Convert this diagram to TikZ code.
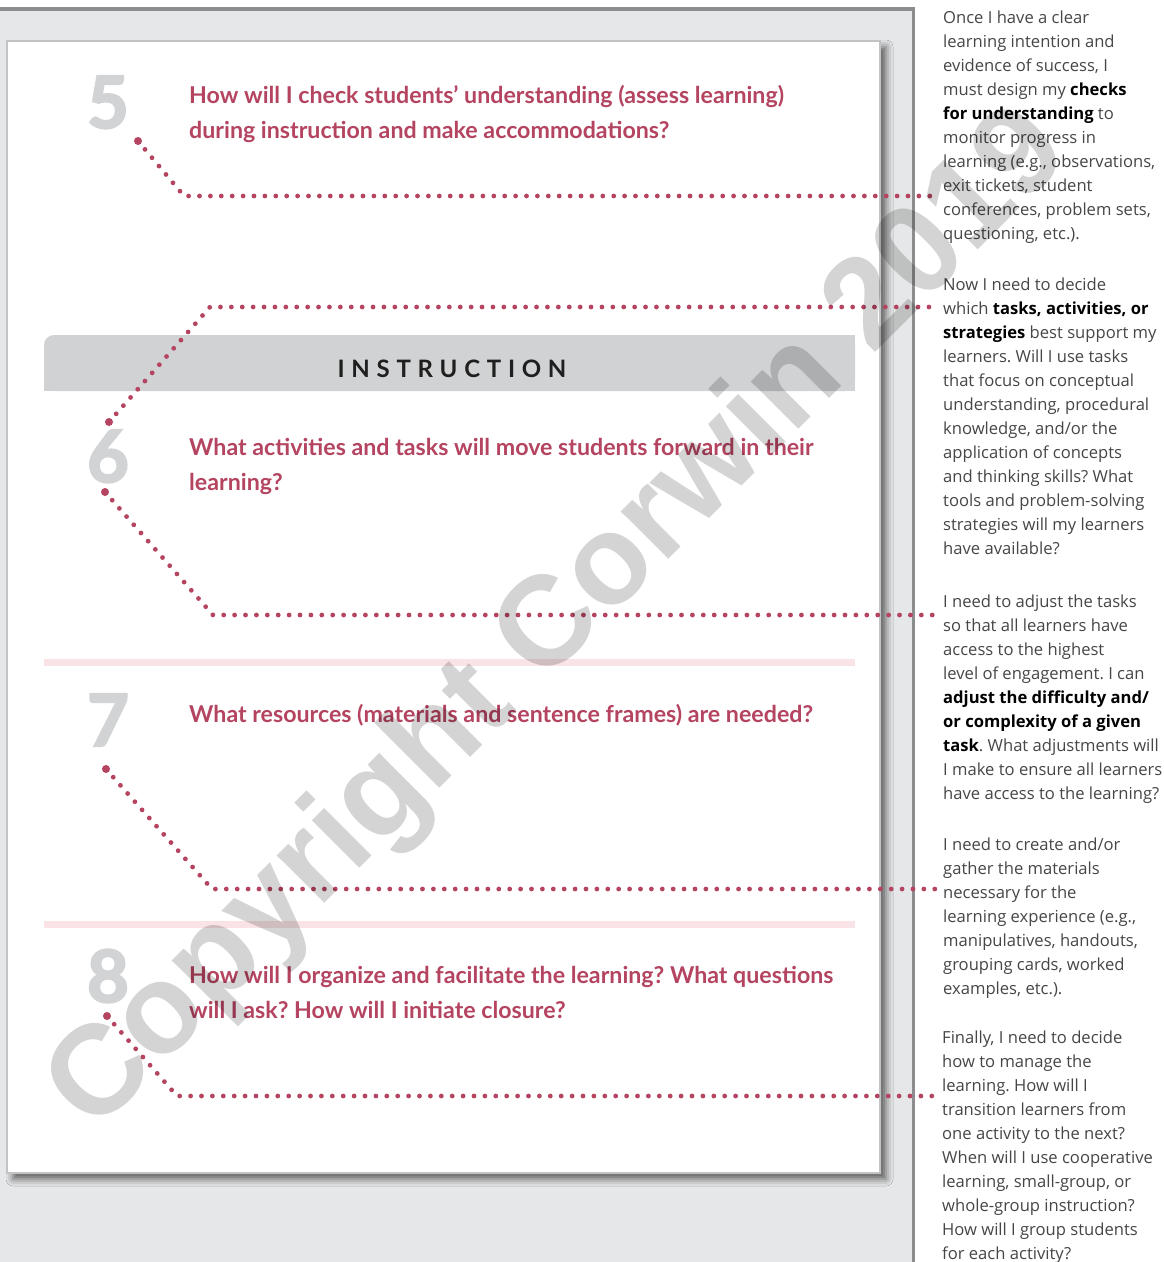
\documentclass[tikz,border=0pt]{standalone}
\usepackage{fontspec}
\setmainfont{Lato}
\newfontfamily\wmfont{Liberation Sans}
\newfontfamily\instrfont{Lato}[LetterSpace=28]
\newfontfamily\numfont{Lato}[BoldFeatures={FakeBold=3}]
\newfontfamily\parafont{Open Sans}
\usetikzlibrary{shadows.blur}
\frenchspacing

\definecolor{crim}{RGB}{180,68,96}
\definecolor{numgray}{RGB}{209,211,212}
\definecolor{band}{RGB}{209,210,212}
\definecolor{pinkline}{RGB}{250,227,230}
\definecolor{outergray}{RGB}{230,231,232}
\definecolor{barline}{RGB}{140,141,143}
\definecolor{pageborder}{RGB}{194,195,197}
\definecolor{bodytext}{RGB}{70,70,70}
\definecolor{wmgray}{RGB}{212,212,212}

\newcommand{\bdt}[1]{{\bfseries\color{black}#1}}

\tikzset{
  dotline/.style={draw=crim, line width=4.8pt, line cap=round, dash pattern=on 0pt off 10.9pt},
  bigdot/.style={circle, fill=crim, minimum size=8pt, inner sep=0pt},
  numstyle/.style={anchor=base, inner sep=0pt, text=numgray, font=\numfont\bfseries\fontsize{72}{72}\selectfont},
  question/.style={anchor=north west, inner sep=0pt, align=left, text=crim, font=\bfseries\fontsize{23.2}{35}\selectfont},
  para/.style={anchor=north west, inner sep=0pt, align=left, text=bodytext, font=\parafont\fontsize{16.6}{24}\selectfont},
  pinkrule/.style={draw=pinkline, line width=7pt},
}

\begin{document}
\begin{tikzpicture}[x=1pt,y=-1pt]
\useasboundingbox (0,0) rectangle (1164,1262);
\fill[white] (0,0) rectangle (1164,1262);
% outer gray region
\fill[outergray] (0,9) rectangle (913,1262);
% page
\draw[pageborder, line width=2.5pt, fill=white,
  blur shadow={shadow xshift=6pt, shadow yshift=-6pt, shadow blur radius=7pt, shadow opacity=60}]
  (7,41) rectangle (880,1173);
% frame lines
\draw[barline, line width=3.5pt, line join=miter] (0,9) -- (913.5,9) -- (913.5,1262);

% instruction band
\fill[band, rounded corners=10pt] (44,335) rectangle (855,391);
\fill[band] (60,335) rectangle (855,391);
\fill[band] (44,360) rectangle (855,391);
\node[anchor=base, inner sep=0pt, text=black!88, font=\instrfont\bfseries\fontsize{24}{24}\selectfont] (instr) at (452,377) {INSTRUCTION};

% pink rules
\draw[pinkrule] (44,662.5) -- (855,662.5);
\draw[pinkrule] (44,924.5) -- (855,924.5);

% numbers
\node[numstyle] (n5) at (108,128) {5};
\node[numstyle] (n6) at (108,482) {6};
\node[numstyle] (n7) at (108,746) {7};
\node[numstyle] (n8) at (108,1002) {8};

% questions
\node[question] (q5) at (189,78.5) {\strut How will I check students’ understanding (assess learning)\\during instruction and make accommodations?};
\node[question] (q6) at (189,431) {\strut What activities and tasks will move students forward in their\\learning?};
\node[question] (q7) at (189,697.5) {\strut What resources (materials and sentence frames) are needed?};
\node[question] (q8) at (189,958.5) {\strut How will I organize and facilitate the learning? What questions\\will I ask? How will I initiate closure?};

% dotted connectors
\node[bigdot] (s5) at (138,141) {};
\coordinate (k5) at (184,196);
\coordinate (e5) at (936,196);
\draw[dotline] (s5.center) -- (k5) -- (e5);

\node[bigdot] (s6a) at (109,422) {};
\coordinate (k6a) at (210,307);
\coordinate (e6a) at (936,307);
\draw[dotline] (s6a.center) -- (k6a) -- (e6a);

\node[bigdot] (s6b) at (105,492) {};
\coordinate (k6b) at (213,615);
\coordinate (e6b) at (936,615);
\draw[dotline] (s6b.center) -- (k6b) -- (e6b);

\node[bigdot] (s7) at (106,769) {};
\coordinate (k7) at (212,889);
\coordinate (e7) at (936,889);
\draw[dotline] (s7.center) -- (k7) -- (e7);

\node[bigdot] (s8) at (107,1016) {};
\coordinate (k8) at (177,1096);
\coordinate (e8) at (936,1096);
\draw[dotline] (s8.center) -- (k8) -- (e8);

% right column text
\node[para] (p1) at (943,6.2) {\strut Once I have a clear\\learning intention and\\evidence of success, I\\must design my \bdt{checks}\\\bdt{for understanding} to\\monitor progress in\\learning (e.g., observations,\\exit tickets, student\\conferences, problem sets,\\questioning, etc.).};
\node[para] (p2) at (943,273.2) {\strut Now I need to decide\\which \bdt{tasks, activities, or}\\\bdt{strategies} best support my\\learners. Will I use tasks\\that focus on conceptual\\understanding, procedural\\knowledge, and/or the\\application of concepts\\and thinking skills? What\\tools and problem-solving\\strategies will my learners\\have available?};
\node[para] (p3) at (943,590.2) {\strut I need to adjust the tasks\\so that all learners have\\access to the highest\\level of engagement. I can\\\bdt{adjust the difficulty and/}\\\bdt{or complexity of a given}\\\bdt{task}. What adjustments will\\I make to ensure all learners\\have access to the learning?};
\node[para] (p4) at (943,833.2) {\strut I need to create and/or\\gather the materials\\necessary for the\\learning experience (e.g.,\\manipulatives, handouts,\\grouping cards, worked\\examples, etc.).};
\node[para] (p5) at (942,1026.2) {\strut Finally, I need to decide\\how to manage the\\learning. How will I\\transition learners from\\one activity to the next?\\When will I use cooperative\\learning, small-group, or\\whole-group instruction?\\How will I group students\\for each activity?};

% watermark
\begin{scope}[blend mode=multiply]
\node[rotate=45, text=wmgray, inner sep=0pt, font=\wmfont\bfseries\fontsize{127}{127}\selectfont] (wm) at (560,622) {Copyright Corwin 2019};
\end{scope}
\end{tikzpicture}
\end{document}
